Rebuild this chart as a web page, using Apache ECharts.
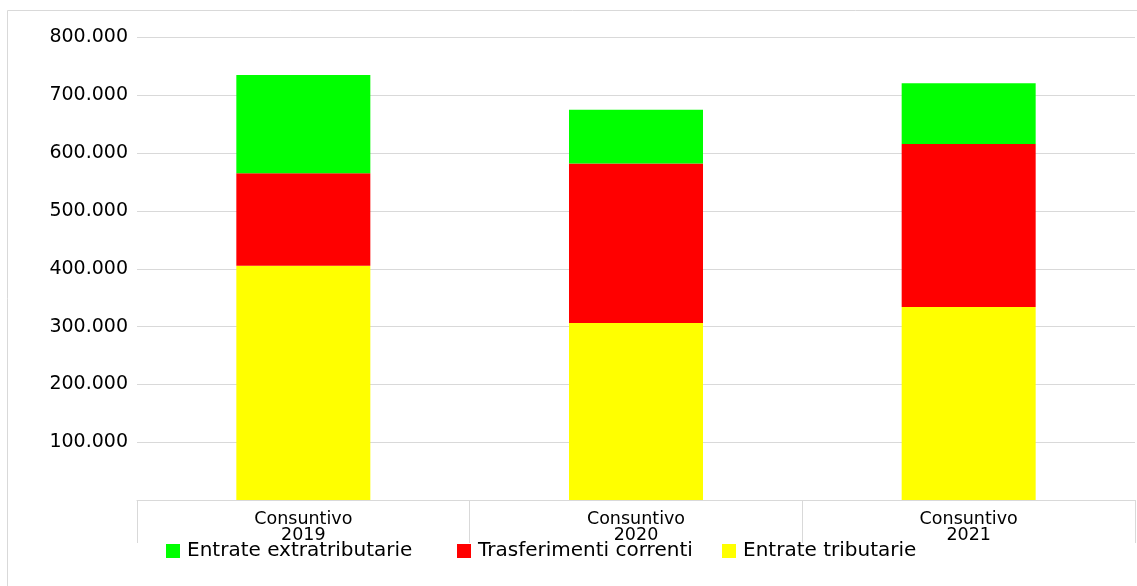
<!DOCTYPE html>
<html lang="it">
<head>
<meta charset="UTF-8">
<title>Entrate</title>
<style>
	*{margin:0;padding:0;}
	body{background:#fff;}
	#chart{width:1137px;height:586px;}
</style>
</head>
<body>
<div id="chart"></div>
<script src="https://cdn.jsdelivr.net/npm/echarts@6/dist/echarts.min.js"></script>
<script>
// dati
var categorie = ['Consuntivo\n2019', 'Consuntivo\n2020', 'Consuntivo\n2021'];
var entrateTributarie = [405000, 306000, 334000];
var trasferimentiCorrenti = [160000, 276000, 282000];
var entrateExtratributarie = [170000, 93000, 105000];

var fontTxt = 'DejaVu Sans';

function formatIt(v){
	if(v == 0) return '';
	return String(v).replace(/\B(?=(\d{3})+(?!\d))/g, '.');
}

function legendItem(nome, left){
	return {
		data:[nome],
		left:left,
		top:541,
		itemWidth:14,
		itemHeight:14,
		itemGap:0,
		padding:0,
		icon:'rect',
		selectedMode:false,
		textStyle:{color:'#000', fontSize:20, fontFamily:fontTxt, padding:[0,0,0,2]}
	};
}

var myChart = echarts.init(document.getElementById('chart'));
var option = {
	animation:false,
	graphic:[{
		type:'rect',
		shape:{x:7.5, y:10.5, width:1140, height:600},
		style:{fill:null, stroke:'#d9d9d9', lineWidth:1},
		silent:true
	}],
	grid:{left:137, right:2, top:37.5, bottom:86},
	legend:[
		legendItem('Entrate extratributarie', 166),
		legendItem('Trasferimenti correnti', 457),
		legendItem('Entrate tributarie', 722)
	],
	xAxis:{
		type:'category',
		data:categorie,
		axisLine:{lineStyle:{color:'#d9d9d9', width:1}},
		axisTick:{show:true, length:43, interval:0, lineStyle:{color:'#d9d9d9'}},
		axisLabel:{
			color:'#000', fontSize:17.5, fontFamily:fontTxt,
			lineHeight:16, margin:11, interval:0
		}
	},
	yAxis:{
		type:'value',
		min:0,
		max:800000,
		interval:100000,
		axisLine:{show:false},
		axisTick:{show:false},
		splitLine:{lineStyle:{color:'#d9d9d9', width:1}},
		axisLabel:{
			color:'#000', fontSize:19, fontFamily:fontTxt, margin:9,
			formatter:formatIt
		}
	},
	series:[
		{
			name:'Entrate tributarie', type:'bar', stack:'tot',
			data:entrateTributarie, barWidth:134,
			itemStyle:{color:'#ffff00'}
		},
		{
			name:'Trasferimenti correnti', type:'bar', stack:'tot',
			data:trasferimentiCorrenti, barWidth:134,
			itemStyle:{color:'#ff0000'}
		},
		{
			name:'Entrate extratributarie', type:'bar', stack:'tot',
			data:entrateExtratributarie, barWidth:134,
			itemStyle:{color:'#00ff00'}
		}
	]
};
myChart.setOption(option);
</script>
</body>
</html>
